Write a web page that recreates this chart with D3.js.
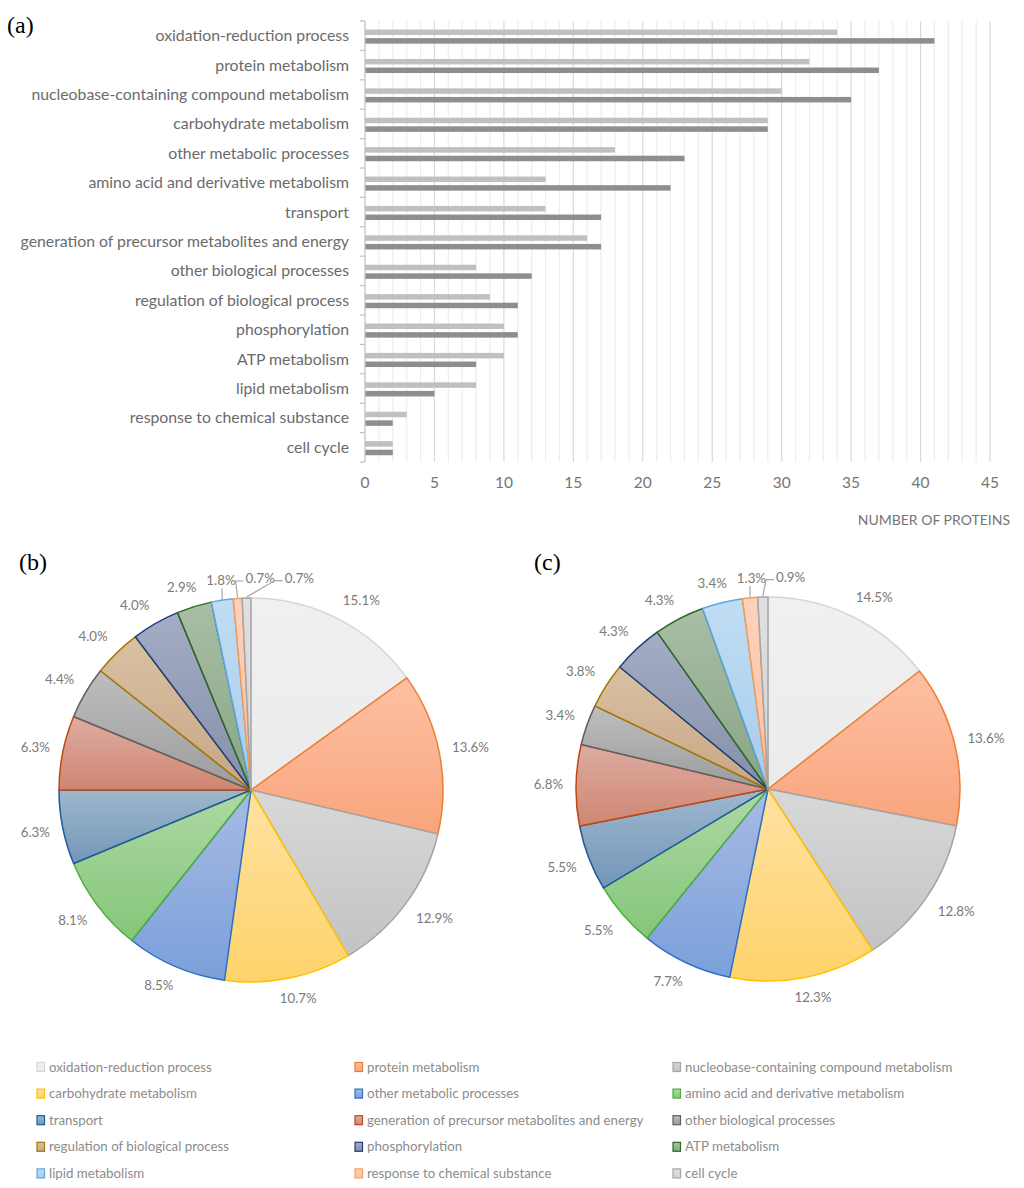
<!DOCTYPE html>
<html>
<head>
<meta charset="utf-8">
<script src="https://cdn.jsdelivr.net/npm/d3@7"></script>
<style>
  html, body { margin: 0; padding: 0; background: #fff; }
  svg { display: block; }
</style>
</head>
<body>
<svg id="chart" width="1024" height="1188"></svg>
<script>
// ---------------- DATA ----------------
const categories = [
  "oxidation-reduction process",
  "protein metabolism",
  "nucleobase-containing compound metabolism",
  "carbohydrate metabolism",
  "other metabolic processes",
  "amino acid and derivative metabolism",
  "transport",
  "generation of precursor metabolites and energy",
  "other biological processes",
  "regulation of biological process",
  "phosphorylation",
  "ATP metabolism",
  "lipid metabolism",
  "response to chemical substance",
  "cell cycle"
];
// light grey bars (pie c)
const countsLight = [34, 32, 30, 29, 18, 13, 13, 16, 8, 9, 10, 10, 8, 3, 2];
// dark grey bars (pie b)
const countsDark  = [41, 37, 35, 29, 23, 22, 17, 17, 12, 11, 11, 8, 5, 2, 2];
const xTicks = [0, 5, 10, 15, 20, 25, 30, 35, 40, 45];

// slice colours: [gradient top, gradient bottom, outline]
const sliceColors = [
  ["#f0f0f0", "#ebebeb", "#d6d6d6"],
  ["#fdc0a4", "#f9a57c", "#ed7d31"],
  ["#d8d8d8", "#c3c3c3", "#a5a5a5"],
  ["#ffe2a2", "#fed36b", "#ffc000"],
  ["#a8bae4", "#7aa0da", "#2f6fc9"],
  ["#aed8a5", "#84c679", "#4caf3a"],
  ["#9db7cd", "#7596ba", "#1e5a96"],
  ["#ddaca2", "#cf8672", "#c0480f"],
  ["#bebebe", "#9c9c9c", "#5f5f5f"],
  ["#d9c1a3", "#c8a687", "#a67800"],
  ["#a4adc4", "#858fa9", "#1f3f7a"],
  ["#a8bea5", "#8aa486", "#2e6a24"],
  ["#c0ddf3", "#a8ccec", "#5ea8e6"],
  ["#fdd2bb", "#fcc1a2", "#f79b5b"],
  ["#e0e0e0", "#d2d2d2", "#a5a5a5"]
];

// ---------------- SETUP ----------------
const svg = d3.select("#chart");
const font = "Lato, 'Open Sans', sans-serif";

// ---------------- (a) BAR CHART ----------------
const plot = { left: 365, right: 990, top: 21, bottom: 462 };
const x = d3.scaleLinear().domain([0, 45]).range([plot.left, plot.right]);
const y0 = d3.scaleBand().domain(categories).range([plot.top, plot.bottom]).paddingInner(0).paddingOuter(0);
const y1 = d3.scaleBand().domain(["light", "dark"])
  .range([y0.bandwidth() * 0.29, y0.bandwidth() * 0.77]).paddingInner(0.36);

const gA = svg.append("g");

// gridlines every unit
const gridVals = d3.range(1, 46);
gA.append("g").selectAll("line").data(gridVals).join("line")
  .attr("x1", d => x(d)).attr("x2", d => x(d))
  .attr("y1", plot.top).attr("y2", plot.bottom)
  .attr("stroke", d => d % 5 === 0 ? "#d9d9d9" : "#ededed")
  .attr("stroke-width", 1.2);

// bars
const barData = categories.map((c, i) => ({ c, light: countsLight[i], dark: countsDark[i] }));
const barG = gA.append("g");
barData.forEach(d => {
  [["light", "#c0c0c0"], ["dark", "#8e8e8e"]].forEach(([k, col]) => {
    barG.append("rect")
      .attr("x", x(0))
      .attr("y", y0(d.c) + y1(k))
      .attr("width", x(d[k]) - x(0))
      .attr("height", y1.bandwidth())
      .attr("fill", col);
  });
});

// left axis line + ticks at band boundaries
gA.append("line")
  .attr("x1", plot.left).attr("x2", plot.left)
  .attr("y1", plot.top).attr("y2", plot.bottom)
  .attr("stroke", "#bfbfbf").attr("stroke-width", 1.2);
const boundaries = categories.map(c => y0(c)).concat([plot.bottom]);
gA.append("g").selectAll("line").data(boundaries).join("line")
  .attr("x1", plot.left - 5).attr("x2", plot.left)
  .attr("y1", d => d).attr("y2", d => d)
  .attr("stroke", "#bfbfbf").attr("stroke-width", 1.2);

// category labels
gA.append("g").selectAll("text").data(categories).join("text")
  .attr("x", plot.left - 16)
  .attr("y", d => y0(d) + y0.bandwidth() / 2)
  .attr("dy", "0.35em")
  .attr("text-anchor", "end")
  .attr("font-family", font).attr("font-size", 15.8)
  .attr("fill", "#6b6b6b")
  .text(d => d);

// x tick labels
gA.append("g").selectAll("text").data(xTicks).join("text")
  .attr("x", d => x(d))
  .attr("y", 483).attr("dy", "0.35em")
  .attr("text-anchor", "middle")
  .attr("font-family", font).attr("font-size", 15.5)
  .attr("fill", "#757575")
  .text(d => d);

// axis title
gA.append("text")
  .attr("x", 1010).attr("y", 520).attr("dy", "0.35em")
  .attr("text-anchor", "end")
  .attr("font-family", font).attr("font-size", 14)
  .attr("fill", "#757575")
  .text("NUMBER OF PROTEINS");

// panel letters
const letter = (t, lx, ly) => svg.append("text")
  .attr("x", lx).attr("y", ly)
  .attr("font-family", "'Liberation Serif', 'Times New Roman', serif")
  .attr("font-size", 24).attr("fill", "#000").text(t);
letter("(a)", 7, 33);
letter("(b)", 19, 570);
letter("(c)", 534, 570);

// ---------------- PIES ----------------
const defs = svg.append("defs");
sliceColors.forEach((c, i) => {
  const lg = defs.append("linearGradient").attr("id", "grad" + i)
    .attr("x1", 0).attr("y1", 0).attr("x2", 0).attr("y2", 1);
  lg.append("stop").attr("offset", "0%").attr("stop-color", c[0]);
  lg.append("stop").attr("offset", "100%").attr("stop-color", c[1]);
});

const R = 192;
function drawPie(counts, cx, cy) {
  const g = svg.append("g").attr("transform", `translate(${cx},${cy})`);
  const total = d3.sum(counts);
  const pie = d3.pie().sort(null).value(d => d.v);
  const arcs = pie(counts.map((v, i) => ({ v, i })));
  const arc = d3.arc().innerRadius(0).outerRadius(R);

  g.selectAll("path").data(arcs).join("path")
    .attr("d", arc)
    .attr("fill", d => `url(#grad${d.data.i})`)
    .attr("stroke", d => sliceColors[d.data.i][2])
    .attr("stroke-width", 1.5)
    .attr("stroke-linejoin", "round");

  // labels
  const labG = g.append("g");
  const gap = 13, hh = 7;
  const labels = arcs.map(d => {
    const a = (d.startAngle + d.endAngle) / 2;
    const ux = Math.sin(a), uy = -Math.cos(a);
    const pct = d.data.v / total * 100;
    const txt = pct.toFixed(1) + "%";
    const t = labG.append("text")
      .attr("font-family", font).attr("font-size", 13.3)
      .attr("fill", "#7a7a7a").attr("text-anchor", "middle")
      .attr("dy", "0.35em").text(txt);
    const w = t.node().getComputedTextLength();
    const hw = w / 2;
    const clamp = v => Math.max(-1, Math.min(1, v));
    const ax = (R + gap) * ux, ay = (R + gap) * uy;
    return { t, a, ux, uy, pct, w, lx: ax + hw * clamp(ux * 2), ly: ay + hh * clamp(uy * 2) };
  });

  // resolve overlaps along the top (last slices run up to 12 o'clock)
  const topIdx = labels.map((l, i) => i).filter(i => labels[i].a > Math.PI * 1.75);
  for (let k = 1; k < topIdx.length; k++) {
    const p = labels[topIdx[k - 1]], c = labels[topIdx[k]];
    const minX = p.lx + (p.w + c.w) / 2 + 10;
    if (c.lx < minX) c.lx = minX;
  }

  labels.forEach(l => {
    l.t.attr("x", l.lx).attr("y", l.ly);
    if (l.pct < 2) {
      const ex = (R + 1) * l.ux, ey = (R + 1) * l.uy;
      const left = l.lx - l.w / 2, right = l.lx + l.w / 2;
      let pts;
      if (ex >= left - 2 && ex <= right) {
        pts = [[ex, ey], [ex, l.ly + 8]];
      } else {
        const hy = l.ly + 2.5;
        pts = [[ex, ey], [left - 10, hy], [left - 2, hy]];
      }
      labG.append("path")
        .attr("d", d3.line()(pts))
        .attr("fill", "none")
        .attr("stroke", "#a6a6a6").attr("stroke-width", 1.2);
    }
  });
}

drawPie(countsDark, 251, 790);
drawPie(countsLight, 768, 789);

// ---------------- LEGEND ----------------
const legCols = [37, 355, 673];
const legRow0 = 1067, legStep = 26.6;
const legG = svg.append("g");
categories.forEach((c, i) => {
  const col = i % 3, row = Math.floor(i / 3);
  const lx = legCols[col], ly = legRow0 + row * legStep;
  legG.append("rect")
    .attr("x", lx).attr("y", ly - 4.5)
    .attr("width", 7.5).attr("height", 9)
    .attr("fill", `url(#grad${i})`)
    .attr("stroke", sliceColors[i][2]).attr("stroke-width", 1.2);
  legG.append("text")
    .attr("x", lx + 12).attr("y", ly).attr("dy", "0.35em")
    .attr("font-family", font).attr("font-size", 13.3)
    .attr("fill", "#8c8c8c")
    .text(c);
});
</script>
</body>
</html>
